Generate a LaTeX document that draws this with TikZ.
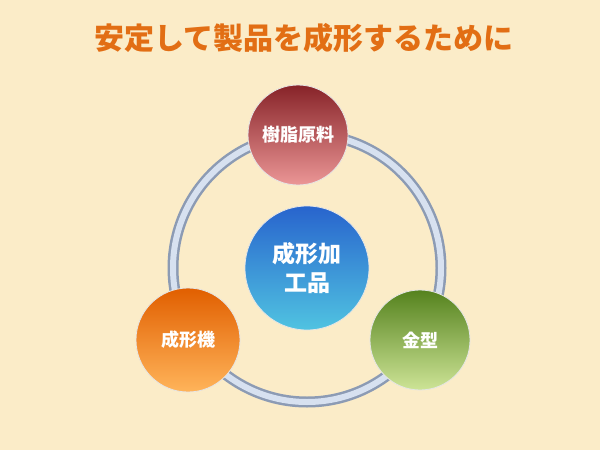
\documentclass[tikz,border=0pt]{standalone}
\usepackage{fontspec}
\setmainfont{Noto Sans CJK JP}
\begin{document}
\begin{tikzpicture}[x=1pt,y=-1pt,
 ball/.style={circle,draw=white!80!gray,line width=0.8pt,text=white,font=\fontsize{18}{21}\selectfont\bfseries,align=center}]
\useasboundingbox (0,0) rectangle (600,450);
\fill[color={rgb,255:red,251;green,236;blue,200}] (0,0) rectangle (600,450);
\node[text={rgb,255:red,226;green,110;blue,20},font=\fontsize{30}{34}\selectfont\bfseries] (title) at (304,38) {安定して製品を成形するために};
\coordinate (c) at (307,268);
\draw[line width=11pt,color={rgb,255:red,140;green,155;blue,180}] (c) circle (134);
\draw[line width=6pt,color={rgb,255:red,215;green,225;blue,240}] (c) circle (134);
\node[ball,minimum size=100pt,top color={rgb,255:red,135;green,35;blue,40},bottom color={rgb,255:red,235;green,150;blue,150}] (a) at (298,135) {樹脂原料};
\node[ball,minimum size=104pt,top color={rgb,255:red,225;green,95;blue,0},bottom color={rgb,255:red,255;green,180;blue,90}] (b) at (188,340) {成形機};
\node[ball,minimum size=100pt,top color={rgb,255:red,85;green,130;blue,30},bottom color={rgb,255:red,205;green,228;blue,150}] (d) at (420,340) {金型};
\node[ball,minimum size=124pt,font=\fontsize{23}{29}\selectfont\bfseries,top color={rgb,255:red,40;green,100;blue,205},bottom color={rgb,255:red,80;green,195;blue,225}] (m) at (307,268) {成形加\\工品};
\end{tikzpicture}
\end{document}
